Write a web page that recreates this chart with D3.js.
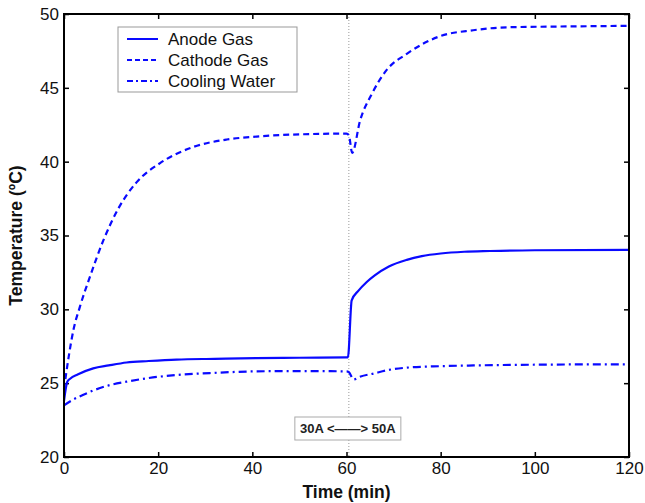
<!DOCTYPE html>
<html>
<head>
<meta charset="utf-8">
<script src="https://cdn.jsdelivr.net/npm/d3@7"></script>
<style>
  body { margin: 0; background: #fff; }
  svg { display: block; font-family: "Liberation Sans", Arial, sans-serif; }
</style>
</head>
<body>
<main></main>
<script>
"use strict";

// values
const anodeTime = [0, 0.7, 1.3, 3, 6.2, 9.5, 13.3, 18, 23.9, 32, 40.9, 50, 60, 60.3, 61.1, 62.5, 64.3, 66, 69, 72.8, 76, 80, 85, 90.5, 100, 120];
const anodeTemp = [23.8, 25.1, 25.3, 25.6, 26.0, 26.2, 26.4, 26.5, 26.6, 26.65, 26.7, 26.72, 26.75, 26.75, 30.6, 31.25, 31.85, 32.3, 32.9, 33.35, 33.6, 33.78, 33.9, 33.95, 34.0, 34.02];

const cathodeTime = [0, 1, 2, 3.4, 5.5, 8.4, 11.5, 15.4, 20.4, 27.5, 34.6, 40.9, 50, 60, 60.5, 61.2, 62.9, 65.4, 68.5, 72.8, 79.9, 86.9, 94, 105, 120];
const cathodeTemp = [24.6, 26.8, 28.6, 30.2, 32.2, 34.7, 36.8, 38.6, 39.9, 41.0, 41.5, 41.7, 41.85, 41.9, 41.8, 40.6, 42.8, 44.6, 46.2, 47.3, 48.5, 48.9, 49.1, 49.15, 49.2];

const coolingTime = [0, 2, 4, 6.2, 9.5, 13.3, 18, 23.9, 32, 40.9, 50, 60, 60.5, 61.5, 63, 65.7, 69, 72.8, 80, 87, 100, 120];
const coolingTemp = [23.5, 23.9, 24.2, 24.5, 24.85, 25.1, 25.35, 25.55, 25.7, 25.8, 25.82, 25.8, 25.75, 25.25, 25.45, 25.65, 25.9, 26.05, 26.15, 26.2, 26.25, 26.28];

const seriesNames = ["Anode Gas", "Cathode Gas", "Cooling Water"];
const xTicks = [0, 20, 40, 60, 80, 100, 120];
const yTicks = [20, 25, 30, 35, 40, 45, 50];
const switchTime = 60.5;
const switchLabel = "30A <\u2014\u2014> 50A";

const width = 645;
const height = 503;
const margin = { top: 14, right: 16, bottom: 46, left: 64 };
const blue = "#0a0aff";

const svg = d3.select("main")
  .append("svg")
  .attr("width", width)
  .attr("height", height);

const xScale = d3.scaleLinear()
  .domain([0, 120])
  .range([margin.left, width - margin.right]);

const yScale = d3.scaleLinear()
  .domain([20, 50])
  .range([height - margin.bottom, margin.top]);

// inward ticks on all four sides, matlab style
const tickLen = 5;
svg.append("g")
  .attr("transform", `translate(0, ${height - margin.bottom})`)
  .call(d3.axisBottom(xScale).tickValues(xTicks).tickSizeInner(-tickLen).tickSizeOuter(0).tickPadding(5))
  .call(g => g.select(".domain").remove())
  .call(g => g.selectAll("text").attr("font-size", 17).attr("fill", "#111").attr("font-family", "Liberation Sans, Arial, sans-serif"));

svg.append("g")
  .attr("transform", `translate(0, ${margin.top})`)
  .call(d3.axisTop(xScale).tickValues(xTicks).tickSizeInner(-tickLen).tickSizeOuter(0).tickFormat(""))
  .call(g => g.select(".domain").remove());

svg.append("g")
  .attr("transform", `translate(${margin.left}, 0)`)
  .call(d3.axisLeft(yScale).tickValues(yTicks).tickSizeInner(-tickLen).tickSizeOuter(0).tickPadding(5))
  .call(g => g.select(".domain").remove())
  .call(g => g.selectAll("text").attr("font-size", 17).attr("fill", "#111").attr("font-family", "Liberation Sans, Arial, sans-serif"));

svg.append("g")
  .attr("transform", `translate(${width - margin.right}, 0)`)
  .call(d3.axisRight(yScale).tickValues(yTicks).tickSizeInner(-tickLen).tickSizeOuter(0).tickFormat(""))
  .call(g => g.select(".domain").remove());

svg.selectAll(".tick line")
  .attr("stroke", "#000")
  .attr("stroke-width", 1.5);

// switch marker
svg.append("line")
  .attr("x1", xScale(switchTime))
  .attr("x2", xScale(switchTime))
  .attr("y1", yScale(50))
  .attr("y2", yScale(20))
  .attr("stroke", "#999")
  .attr("stroke-width", 1)
  .attr("stroke-dasharray", "1,2");

const line = d3.line()
  .x(d => xScale(d[0]))
  .y(d => yScale(d[1]))
  .curve(d3.curveMonotoneX);

const series = [
  { name: seriesNames[0], data: d3.zip(anodeTime, anodeTemp), dash: null },
  { name: seriesNames[1], data: d3.zip(cathodeTime, cathodeTemp), dash: "6,4" },
  { name: seriesNames[2], data: d3.zip(coolingTime, coolingTemp), dash: "8,4,2,4" }
];

svg.append("g")
  .selectAll("path")
  .data(series)
  .enter()
  .append("path")
  .attr("d", d => line(d.data))
  .attr("fill", "none")
  .attr("stroke", blue)
  .attr("stroke-width", 2.2)
  .attr("stroke-dasharray", d => d.dash);

// annotation box
const boxW = 106;
const boxH = 23;
const boxX = xScale(switchTime) - 54;
const boxY = yScale(20) - 40;
svg.append("rect")
  .attr("x", boxX)
  .attr("y", boxY)
  .attr("width", boxW)
  .attr("height", boxH)
  .attr("fill", "#fff")
  .attr("stroke", "#aaa")
  .attr("stroke-width", 1);
svg.append("text")
  .attr("x", boxX + boxW / 2)
  .attr("y", boxY + 16)
  .attr("text-anchor", "middle")
  .attr("font-size", 13)
  .attr("font-weight", "bold")
  .attr("fill", "#222")
  .text(switchLabel);

// frame
svg.append("rect")
  .attr("x", margin.left)
  .attr("y", margin.top)
  .attr("width", width - margin.left - margin.right)
  .attr("height", height - margin.top - margin.bottom)
  .attr("fill", "none")
  .attr("stroke", "#000")
  .attr("stroke-width", 2);

// legend
const legend = svg.append("g")
  .attr("transform", "translate(118, 27)");
legend.append("rect")
  .attr("width", 179)
  .attr("height", 65)
  .attr("fill", "#fff")
  .attr("stroke", "#999")
  .attr("stroke-width", 1);
const rows = legend.selectAll("g")
  .data(series)
  .enter()
  .append("g")
  .attr("transform", (d, i) => `translate(0, ${12 + i * 21})`);
rows.append("line")
  .attr("x1", 9)
  .attr("x2", 40)
  .attr("stroke", blue)
  .attr("stroke-width", 2)
  .attr("stroke-dasharray", d => d.dash ? (d.dash === "6,4" ? "5,3" : "6,3,2,3") : null);
rows.append("text")
  .attr("x", 50)
  .attr("y", 6)
  .attr("font-size", 17)
  .attr("fill", "#111")
  .text(d => d.name);

// axis titles
svg.append("text")
  .attr("x", xScale(60))
  .attr("y", 498)
  .attr("text-anchor", "middle")
  .attr("font-size", 17.5)
  .attr("font-weight", "bold")
  .attr("fill", "#111")
  .text("Time (min)");

svg.append("text")
  .attr("transform", `translate(22, ${yScale(35)}) rotate(-90)`)
  .attr("text-anchor", "middle")
  .attr("font-size", 17.5)
  .attr("font-weight", "bold")
  .attr("fill", "#111")
  .text("Temperature (\u00BAC)");
</script>
</body>
</html>
